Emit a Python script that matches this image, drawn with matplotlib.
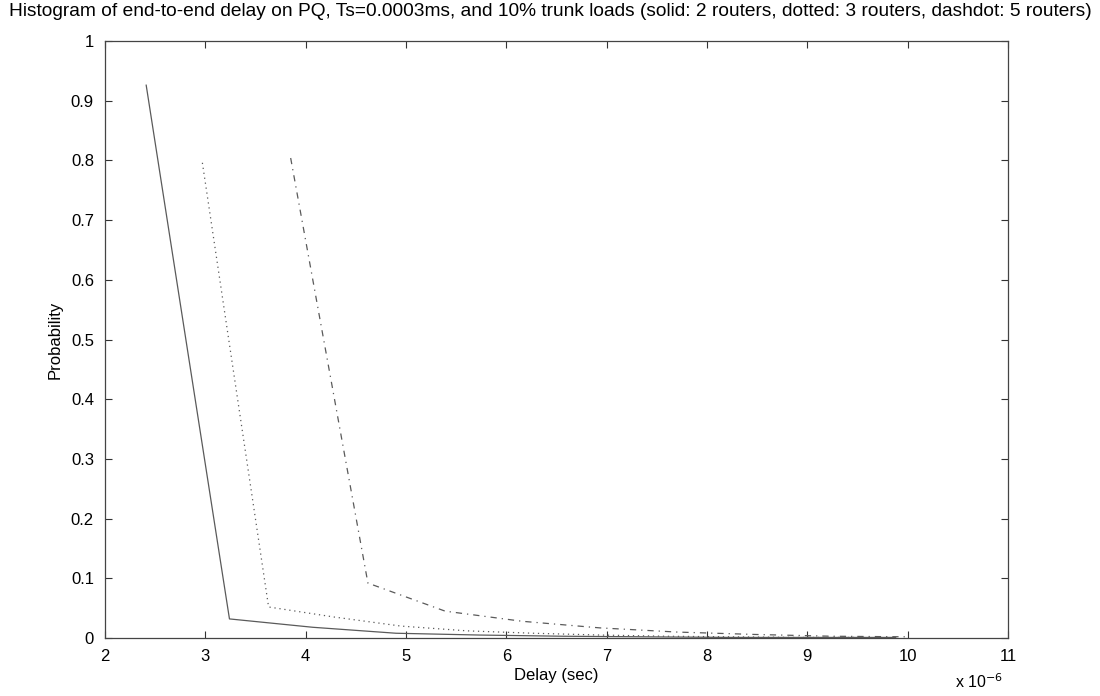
import matplotlib
matplotlib.use("Agg")
import matplotlib.pyplot as plt

# delay values in units of 1e-6 sec
delay_2r = [2.41, 3.24, 4.07, 4.90, 5.73, 6.56, 7.39, 8.22, 9.05, 9.88]
prob_2r = [0.926, 0.032, 0.018, 0.008, 0.005, 0.003, 0.002, 0.001, 0.001, 0.001]

delay_3r = [2.97, 3.63, 4.29, 4.95, 5.61, 6.27, 6.93, 7.59, 8.25, 8.91, 9.57]
prob_3r = [0.796, 0.052, 0.035, 0.020, 0.012, 0.008, 0.005, 0.003, 0.002, 0.001, 0.001]

delay_5r = [3.85, 4.62, 5.39, 6.16, 6.93, 7.70, 8.47, 9.24, 10.01]
prob_5r = [0.804, 0.092, 0.045, 0.028, 0.017, 0.010, 0.006, 0.003, 0.002]

xticks = [2, 3, 4, 5, 6, 7, 8, 9, 10, 11]
yticks = [0, 0.1, 0.2, 0.3, 0.4, 0.5, 0.6, 0.7, 0.8, 0.9, 1]

plt.rcParams['font.family'] = ['Liberation Sans', 'DejaVu Sans']

fig = plt.figure(figsize=(11, 6.96), dpi=100)
ax = fig.add_axes([0.0955, 0.0833, 0.8209, 0.8578])

line_col = '#5a5a5a'
ax.plot(delay_2r, prob_2r, color=line_col, lw=0.9, linestyle='-')
ax.plot(delay_3r, prob_3r, color=line_col, lw=0.9, linestyle=(0, (1, 3)))
ax.plot(delay_5r, prob_5r, color=line_col, lw=0.9, linestyle=(0, (5, 4, 1, 4)))

ax.set_xlim(2, 11)
ax.set_ylim(0, 1)
ax.set_xticks(xticks)
ax.set_xticklabels([str(t) for t in xticks])
ax.set_yticks(yticks)
ax.set_yticklabels(['0'] + ['%.1f' % t for t in yticks[1:-1]] + ['1'])
ax.tick_params(direction='in', top=True, right=True, length=5, width=0.8, pad=8,
               colors='#333333', labelcolor='black', labelsize=12)
for s in ax.spines.values():
    s.set_color('#444444')
    s.set_linewidth(0.9)

ax.set_xlabel('Delay (sec)', fontsize=12, labelpad=3)
ax.set_ylabel('Probability', fontsize=12, labelpad=6)
ax.text(0.995, -0.084, r'x 10$^{-6}$', transform=ax.transAxes, ha='right',
        va='baseline', fontsize=11.5)

fig.text(0.5, 0.995, 'Histogram of end-to-end delay on PQ, Ts=0.0003ms, and 10% trunk loads '
         '(solid: 2 routers, dotted: 3 routers, dashdot: 5 routers)',
         ha='center', va='top', fontsize=13.8)

fig.savefig('out.png', dpi=100)
